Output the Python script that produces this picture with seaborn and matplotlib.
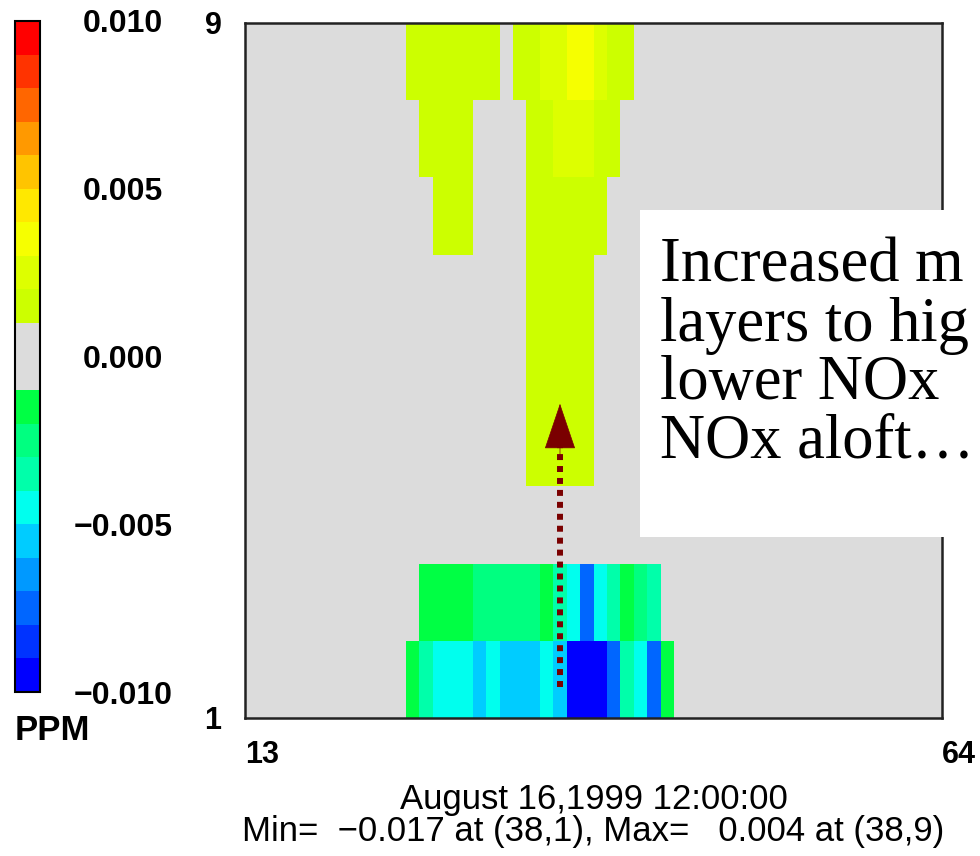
import numpy as np
import pandas as pd
import matplotlib
matplotlib.use('Agg')
import matplotlib.pyplot as plt
from matplotlib.colors import ListedColormap, BoundaryNorm
from matplotlib.patches import Rectangle
import seaborn as sns

plt.rcParams['font.family'] = ['Liberation Sans', 'DejaVu Sans']

# cross-section grid: columns 13..64, layers 1..9
columns = list(range(13, 65))
layers = list(range(9, 0, -1))   # top row first

# non-gray parts of every layer: (first column, values in ppm)
layer9 = [(25, [0.0015, 0.0015, 0.0015, 0.0015, 0.0015, 0.0015, 0.0015]),
          (33, [0.0015, 0.0015, 0.0025, 0.0025, 0.0035, 0.0039, 0.0025, 0.0015, 0.0015])]
layer8 = [(26, [0.0015, 0.0015, 0.0015, 0.0015]),
          (34, [0.0015, 0.0015, 0.0025, 0.0025, 0.0025, 0.0015, 0.0015])]
layer7 = [(27, [0.0015, 0.0015, 0.0015]),
          (34, [0.0015, 0.0015, 0.0015, 0.0015, 0.0015, 0.0015])]
layer6 = [(34, [0.0015, 0.0015, 0.0015, 0.0015, 0.0015])]
layer5 = [(34, [0.0015, 0.0015, 0.0015, 0.0015, 0.0015])]
layer4 = [(34, [0.0013, 0.0014, 0.0015, 0.0014, 0.0013])]
layer3 = []
layer2 = [(26, [-0.0015, -0.0015, -0.0015, -0.0015, -0.0025, -0.0025, -0.0025, -0.0025, -0.0025,
                -0.0015, -0.0035, -0.0045, -0.0075, -0.0045, -0.0035, -0.0015, -0.0025, -0.0035])]
layer1 = [(25, [-0.0015, -0.0035, -0.0045, -0.0045, -0.0045, -0.0055, -0.0045, -0.0055, -0.0055, -0.0055,
                -0.0045, -0.0055, -0.0105, -0.0170, -0.0110, -0.0075, -0.0035, -0.0045, -0.0075, -0.0015])]

profile = {9: layer9, 8: layer8, 7: layer7, 6: layer6, 5: layer5,
           4: layer4, 3: layer3, 2: layer2, 1: layer1}

levels = [-0.010, -0.009, -0.008, -0.007, -0.006, -0.005, -0.004, -0.003, -0.002, -0.001, 0.0,
          0.001, 0.002, 0.003, 0.004, 0.005, 0.006, 0.007, 0.008, 0.009, 0.010]
level_colors = ['#0000ff', '#0033ff', '#0066ff', '#0099ff', '#00ccff', '#00ffee', '#00ffaa',
                '#00ff80', '#00ff44', '#dcdcdc', '#dcdcdc', '#ccff00', '#ddff00', '#f6ff00',
                '#ffe800', '#ffc400', '#ff9900', '#ff6600', '#ff3300', '#ff0000']
cbar_ticks = [-0.010, -0.005, 0.0, 0.005, 0.010]
cbar_labels = ['\u22120.010', '\u22120.005', '0.000', '0.005', '0.010']

grid = pd.DataFrame(0.0, index=layers, columns=columns)
for lay, parts in profile.items():
    for start, vals in parts:
        grid.loc[lay, start:start + len(vals) - 1] = vals

cmap = ListedColormap(level_colors)
cmap.set_under('#0000ff')
cmap.set_over('#ff0000')
norm = BoundaryNorm(levels, cmap.N)

W, H = 980, 856
fig = plt.figure(figsize=(W / 100, H / 100), dpi=100)
ax = fig.add_axes([245 / W, 1 - 718 / H, 697 / W, 695 / H])
cax = fig.add_axes([14.5 / W, 1 - 692 / H, 25.5 / W, 671 / H])

sns.heatmap(grid, ax=ax, cmap=cmap, norm=norm, cbar=False,
            xticklabels=False, yticklabels=False)
for s in ax.spines.values():
    s.set_visible(True)
    s.set_linewidth(1.8)
    s.set_color('#222222')

ax.set_xticks([0, len(columns)])
ax.set_xticklabels([str(columns[0]), str(columns[-1])], fontsize=22, fontweight='bold', ha='left')
ax.set_yticks([0, len(layers)])
ax.set_yticklabels([str(layers[0]), str(layers[-1])], fontsize=22, fontweight='bold', rotation=0)
ax.tick_params(axis='x', length=0, pad=16)
ax.tick_params(axis='y', length=0, pad=17)
ax.set_xlabel('')
ax.set_ylabel('')

cb = fig.colorbar(ax.collections[0], cax=cax, ticks=cbar_ticks)
cb.outline.set_linewidth(1.5)
cb.ax.minorticks_off()
cax.set_yticklabels(cbar_labels, fontsize=23, fontweight='bold')
cax.tick_params(which='both', length=0, pad=60)
for t in cax.get_yticklabels():
    t.set_horizontalalignment('center')

fig.text(15 / W, 1 - 731 / H, 'PPM', fontsize=25, fontweight='bold', ha='left', va='center')

cx = (245 + 942) / 2 / W
fig.text(cx, 1 - 800 / H, 'August 16,1999 12:00:00', fontsize=25,
         ha='center', va='center')
fig.text(cx, 1 - 831 / H, 'Min=  \u22120.017 at (38,1), Max=   0.004 at (38,9)',
         fontsize=25, ha='center', va='center')

# dotted arrow from the surface layer up into the plume
arrow_x = 36 - columns[0] + 0.5
ax.plot([arrow_x, arrow_x], [8.6, 5.45], color='#7a0000', lw=4.3,
        linestyle=(0, (1, 1)), solid_capstyle='butt', dash_capstyle='butt')
ax.annotate('', xy=(arrow_x, 4.93), xytext=(arrow_x, 5.6),
            arrowprops=dict(arrowstyle='-|>,head_length=31,head_width=10.5',
                            mutation_scale=1, color='#7a0000', lw=0.5,
                            shrinkA=0, shrinkB=0))

# annotation box, running off the right edge
fig.add_artist(Rectangle((640 / W, 1 - 537 / H), (W - 640) / W, 327 / H,
                         transform=fig.transFigure, facecolor='white', edgecolor='none'))
note = ['Increased m', 'layers to hig', 'lower NOx', 'NOx aloft\u2026']
for i, line in enumerate(note):
    fig.text(660 / W, 1 - (282 + 58.5 * i) / H, line, fontsize=45,
             family='Liberation Serif', ha='left', va='baseline')

plt.savefig('out.png', dpi=100)
